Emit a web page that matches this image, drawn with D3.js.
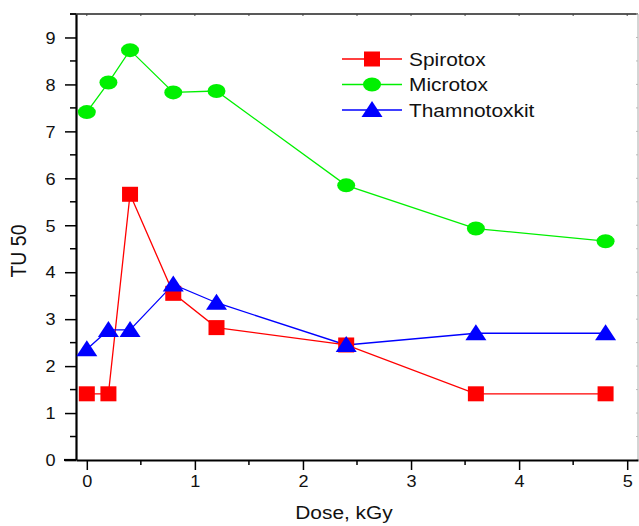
<!DOCTYPE html>
<html>
<head>
  <meta charset="utf-8">
  <title>TU 50 vs Dose</title>
  <script src="https://d3js.org/d3.v7.min.js"></script>
  <style>
    body, html { margin: 0; padding: 0; background: #fff; }
    svg { display: block; font-family: "Liberation Sans", Arial, sans-serif; }
    .tick text { font-size: 16px; fill: #111; }
  </style>
</head>
<body>
<svg width="639" height="526"></svg>
<script>
  // Dose values (kGy) and TU 50 readings per test
  const doses = [0, 0.2, 0.4, 0.8, 1.2, 2.4, 3.6, 4.8];
  const spirotox = [1.41, 1.41, 5.66, 3.55, 2.82, 2.45, 1.41, 1.41];
  const microtox = [7.41, 8.04, 8.73, 7.83, 7.86, 5.85, 4.93, 4.66];
  const thamnotoxkit = [2.36, 2.77, 2.77, 3.74, 3.35, 2.45, 2.7, 2.7];

  const xTicks = [0, 1, 2, 3, 4, 5];
  const yTicks = [0, 1, 2, 3, 4, 5, 6, 7, 8, 9];

  const series = [
    { name: "Spirotox", values: spirotox, color: "#ff0000", marker: "square" },
    { name: "Microtox", values: microtox, color: "#00f000", marker: "circle" },
    { name: "Thamnotoxkit", values: thamnotoxkit, color: "#0000ff", marker: "triangle" }
  ];

  const svg = d3.select("svg");
  const pLeft = 76, pRight = 638, pTop = 14, pBottom = 460;
  const stretch = 1.13; // the original text is a little wide

  const x = d3.scaleLinear().domain([-0.1, 5.1]).range([pLeft, pRight]);
  const y = d3.scaleLinear().domain([0, 9.5]).range([pBottom, pTop]);

  // frame: top and right borders
  svg.append("line").attr("x1", pLeft - 6).attr("x2", pRight).attr("y1", pTop).attr("y2", pTop)
    .attr("stroke", "#222").attr("stroke-width", 1.6);
  svg.append("line").attr("x1", pRight).attr("x2", pRight).attr("y1", pTop).attr("y2", pBottom)
    .attr("stroke", "#aaa").attr("stroke-width", 1);

  // small inner ticks on top/right borders
  const halfX = d3.range(0, 5.01, 0.5);
  const halfY = d3.range(0, 9.51, 0.5);
  svg.append("g").selectAll("line").data(halfX).join("line")
    .attr("x1", d => x(d)).attr("x2", d => x(d)).attr("y1", pTop).attr("y2", pTop + 2)
    .attr("stroke", "#444").attr("stroke-width", 1);
  svg.append("g").selectAll("line").data(halfY).join("line")
    .attr("x1", pRight).attr("x2", pRight - 2).attr("y1", d => y(d)).attr("y2", d => y(d))
    .attr("stroke", "#bbb").attr("stroke-width", 1);

  // minor ticks on main axes
  svg.append("g").selectAll("line").data(halfX.filter(d => d % 1 !== 0)).join("line")
    .attr("x1", d => x(d)).attr("x2", d => x(d)).attr("y1", pBottom).attr("y2", pBottom + 5)
    .attr("stroke", "#000").attr("stroke-width", 1.5);
  svg.append("g").selectAll("line").data(halfY.filter(d => d % 1 !== 0)).join("line")
    .attr("x1", pLeft).attr("x2", pLeft - 6).attr("y1", d => y(d)).attr("y2", d => y(d))
    .attr("stroke", "#000").attr("stroke-width", 1.5);

  // axes
  const xAxis = svg.append("g").attr("transform", `translate(0,${pBottom})`)
    .call(d3.axisBottom(x).tickValues(xTicks).tickFormat(d3.format("d"))
      .tickSize(10).tickPadding(6).tickSizeOuter(0));
  const yAxis = svg.append("g").attr("transform", `translate(${pLeft},0)`)
    .call(d3.axisLeft(y).tickValues(yTicks).tickFormat(d3.format("d"))
      .tickSize(11).tickPadding(7).tickSizeOuter(0));
  [xAxis, yAxis].forEach(a => {
    a.select(".domain").attr("stroke", "#000").attr("stroke-width", 2.2);
    a.selectAll(".tick line").attr("stroke", "#000").attr("stroke-width", 1.5);
    a.selectAll(".tick text").attr("transform", `scale(${stretch},1)`);
  });
  yAxis.selectAll(".tick text").attr("dy", "0.36em");
  // bottom axis line runs a bit past the left axis, as in the original
  xAxis.append("line").attr("x1", pLeft - 12).attr("x2", pLeft).attr("y1", 0).attr("y2", 0)
    .attr("stroke", "#000").attr("stroke-width", 2.2);

  // axis titles
  svg.append("text").attr("transform", `translate(344,519) scale(${stretch},1)`)
    .attr("text-anchor", "middle").attr("font-size", 18.5).attr("fill", "#111").text("Dose, kGy");
  svg.append("text").attr("transform", `translate(26,251) rotate(-90) scale(1,${stretch})`)
    .attr("text-anchor", "middle").attr("font-size", 19.5).attr("fill", "#111").text("TU 50");

  // marker drawer
  function drawMarker(sel, type, color) {
    if (type === "square") {
      sel.append("rect").attr("x", -8).attr("y", -7.5).attr("width", 16).attr("height", 15).attr("fill", color);
    } else if (type === "circle") {
      sel.append("ellipse").attr("rx", 9).attr("ry", 7).attr("fill", color);
    } else {
      sel.append("path").attr("d", "M0,-9L10.5,7L-10.5,7Z").attr("fill", color);
    }
  }

  const line = d3.line().x((d, i) => x(doses[i])).y(d => y(d));

  series.forEach(s => {
    svg.append("path").attr("d", line(s.values)).attr("fill", "none")
      .attr("stroke", s.color).attr("stroke-width", 1.3);
  });
  series.forEach(s => {
    svg.append("g").selectAll("g").data(s.values).join("g")
      .attr("transform", (d, i) => `translate(${x(doses[i])},${y(d)})`)
      .each(function () { drawMarker(d3.select(this), s.marker, s.color); });
  });

  // legend
  const legend = svg.append("g").attr("transform", "translate(342,59)");
  series.forEach((s, i) => {
    const row = legend.append("g").attr("transform", `translate(0,${i * 25.5})`);
    row.append("line").attr("x1", 0).attr("x2", 60).attr("stroke", s.color).attr("stroke-width", 1.3);
    drawMarker(row.append("g").attr("transform", "translate(30,0)"), s.marker, s.color);
    row.append("text").attr("transform", `translate(67,0) scale(${stretch},1)`)
      .attr("dy", "0.36em").attr("font-size", 18.5).attr("fill", "#111").text(s.name);
  });
</script>
</body>
</html>
